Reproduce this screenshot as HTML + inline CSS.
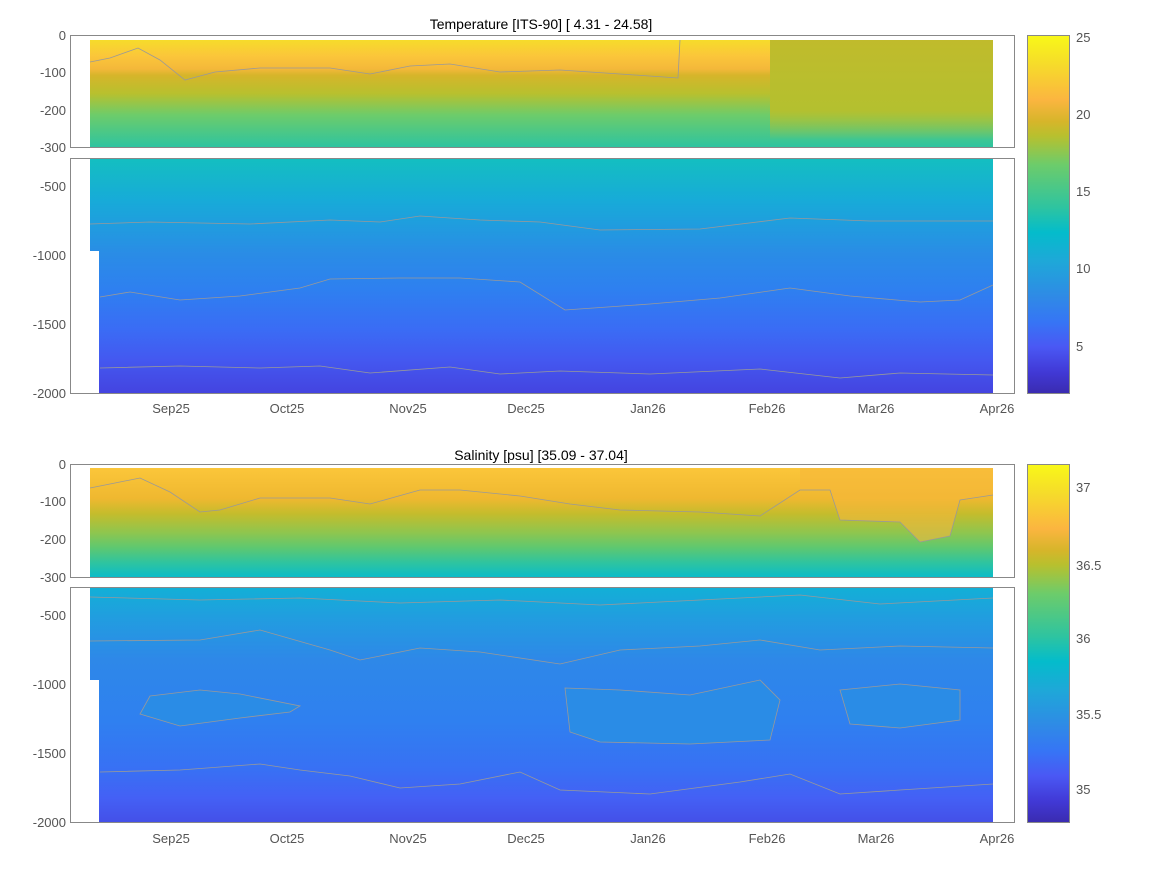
<!DOCTYPE html>
<html><head><meta charset="utf-8"><style>
body{margin:0;background:#fff;}
svg{display:block;font-family:"Liberation Sans",sans-serif;}
.t{fill:#555;font-size:13px;}
.ti{fill:#000;font-size:14px;}
</style></head><body>
<svg width="1167" height="875" viewBox="0 0 1167 875" xmlns="http://www.w3.org/2000/svg">
<defs>
<linearGradient id="cb" x1="0" y1="1" x2="0" y2="0">
<stop offset="0" stop-color="#3a2bb0"/><stop offset="0.06" stop-color="#4139d6"/>
<stop offset="0.13" stop-color="#4a58f4"/><stop offset="0.20" stop-color="#3675f5"/>
<stop offset="0.27" stop-color="#2f8ae6"/><stop offset="0.37" stop-color="#1ea8d8"/>
<stop offset="0.45" stop-color="#04bccb"/><stop offset="0.52" stop-color="#2ec4a0"/>
<stop offset="0.64" stop-color="#6dcc6a"/><stop offset="0.72" stop-color="#b8c02e"/>
<stop offset="0.76" stop-color="#d6b52a"/><stop offset="0.82" stop-color="#fbb540"/>
<stop offset="0.92" stop-color="#f6dc2a"/><stop offset="1" stop-color="#f8f818"/>
</linearGradient>
<linearGradient id="tu" x1="0" y1="0" x2="0" y2="1">
<stop offset="0" stop-color="#f6dc2a"/><stop offset="0.15" stop-color="#fbc63a"/>
<stop offset="0.27" stop-color="#f4b83a"/><stop offset="0.33" stop-color="#d6b52a"/>
<stop offset="0.5" stop-color="#b8c02e"/><stop offset="0.7" stop-color="#6dcc6a"/>
<stop offset="1" stop-color="#2ec4a0"/>
</linearGradient>
<linearGradient id="tr" x1="0" y1="0" x2="0" y2="1">
<stop offset="0" stop-color="#c0bb2c"/><stop offset="0.7" stop-color="#b4c02f"/>
<stop offset="1" stop-color="#b4c02f" stop-opacity="0"/>
</linearGradient>
<linearGradient id="tl" x1="0" y1="0" x2="0" y2="1">
<stop offset="0" stop-color="#14bfc0"/><stop offset="0.18" stop-color="#17abd8"/>
<stop offset="0.41" stop-color="#2a8ce6"/><stop offset="0.56" stop-color="#2e80f0"/>
<stop offset="0.73" stop-color="#3a6cf5"/><stop offset="0.86" stop-color="#4458f0"/>
<stop offset="1" stop-color="#4444e0"/>
</linearGradient>
<linearGradient id="su" x1="0" y1="0" x2="0" y2="1">
<stop offset="0" stop-color="#fbc63a"/><stop offset="0.28" stop-color="#efb830"/>
<stop offset="0.42" stop-color="#c4bc2c"/><stop offset="0.6" stop-color="#8cc650"/>
<stop offset="0.73" stop-color="#5ec870"/><stop offset="0.87" stop-color="#2ec4a0"/>
<stop offset="1" stop-color="#0cbcc8"/>
</linearGradient>
<linearGradient id="sl" x1="0" y1="0" x2="0" y2="1">
<stop offset="0" stop-color="#12b0d6"/><stop offset="0.14" stop-color="#229ce0"/>
<stop offset="0.31" stop-color="#2e88e8"/><stop offset="0.57" stop-color="#2f80f0"/>
<stop offset="0.78" stop-color="#3870f4"/><stop offset="0.9" stop-color="#4460f5"/>
<stop offset="1" stop-color="#4450e8"/>
</linearGradient>
</defs>

<!-- Temperature -->
<text class="ti" x="541" y="29" text-anchor="middle">Temperature [ITS-90]   [ 4.31 - 24.58]</text>
<rect x="90" y="40" width="903" height="107" fill="url(#tu)"/>
<rect x="770" y="40" width="223" height="100" fill="url(#tr)"/>
<polyline fill="none" stroke="#999" stroke-width="0.8" points="90,62 110,58 138,48 160,60 185,80 215,72 260,68 330,68 370,74 410,66 450,64 500,72 560,70 620,74 678,78 680,40"/>
<rect x="90" y="158" width="903" height="235" fill="url(#tl)"/>
<rect x="90" y="251" width="9" height="142" fill="#fff"/>
<polyline fill="none" stroke="#999" stroke-width="0.8" points="90,224 150,222 250,224 330,220 380,222 420,216 480,220 540,222 600,230 700,229 790,218 870,221 993,221"/>
<polyline fill="none" stroke="#999" stroke-width="0.8" points="100,297 130,292 180,300 240,296 300,288 330,279 400,278 460,278 520,282 565,310 650,304 720,298 790,288 850,296 920,302 960,300 993,285"/>
<polyline fill="none" stroke="#999" stroke-width="0.8" points="100,368 180,366 260,368 320,366 370,373 450,367 500,374 560,371 650,374 760,369 840,378 900,373 993,375"/>
<rect x="70.5" y="35.5" width="944" height="112" fill="none" stroke="#888"/>
<rect x="70.5" y="158.5" width="944" height="235" fill="none" stroke="#888"/>
<g class="t" text-anchor="end">
<text x="66" y="40">0</text><text x="66" y="77">-100</text><text x="66" y="115">-200</text><text x="66" y="152">-300</text>
<text x="66" y="191">-500</text><text x="66" y="260">-1000</text><text x="66" y="329">-1500</text><text x="66" y="398">-2000</text>
</g>
<g class="t" text-anchor="middle">
<text x="171" y="413">Sep25</text><text x="287" y="413">Oct25</text><text x="408" y="413">Nov25</text><text x="526" y="413">Dec25</text>
<text x="648" y="413">Jan26</text><text x="767" y="413">Feb26</text><text x="876" y="413">Mar26</text><text x="997" y="413">Apr26</text>
</g>
<rect x="1027.5" y="35.5" width="42" height="358" fill="url(#cb)" stroke="#888"/>
<g class="t"><text x="1076" y="42">25</text><text x="1076" y="119">20</text><text x="1076" y="196">15</text><text x="1076" y="273">10</text><text x="1076" y="351">5</text></g>

<!-- Salinity -->
<text class="ti" x="541" y="460" text-anchor="middle">Salinity [psu]   [35.09 - 37.04]</text>
<rect x="90" y="468" width="903" height="109" fill="url(#su)"/>
<path d="M800,490 L830,490 L840,520 L900,522 L920,542 L950,536 L960,500 L993,495 L993,468 L800,468Z" fill="#f6b83a" opacity="0.6"/>
<polyline fill="none" stroke="#999" stroke-width="0.8" points="90,488 110,484 140,478 170,492 200,512 220,510 260,498 330,498 370,504 420,490 460,490 520,496 570,504 620,510 700,512 760,516 800,490 830,490 840,520 900,522 920,542 950,536 960,500 993,495"/>
<rect x="90" y="587" width="903" height="235" fill="url(#sl)"/>
<rect x="90" y="680" width="9" height="142" fill="#fff"/>
<polyline fill="none" stroke="#999" stroke-width="0.8" points="90,597 200,600 300,598 400,603 500,600 600,605 700,600 800,595 880,604 993,598"/>
<polyline fill="none" stroke="#999" stroke-width="0.8" points="90,641 200,640 260,630 330,650 360,660 420,648 480,652 560,664 620,650 700,646 760,640 820,650 900,646 993,648"/>
<polyline fill="none" stroke="#999" stroke-width="0.8" points="100,772 180,770 260,764 300,770 350,776 400,788 460,784 520,772 560,790 650,794 740,782 790,774 840,794 900,790 993,784"/>
<path d="M565,688 L620,690 L690,695 L760,680 L780,700 L770,740 L690,744 L600,742 L570,732 Z" fill="#2a8ce6" stroke="#999" stroke-width="0.8"/>
<path d="M150,696 L200,690 L240,694 L300,706 L290,712 L240,718 L180,726 L140,714 Z" fill="#2a8ce6" stroke="#999" stroke-width="0.8"/>
<path d="M840,690 L900,684 L960,690 L960,720 L900,728 L850,724 Z" fill="#2a8ce6" stroke="#999" stroke-width="0.8"/>
<rect x="70.5" y="464.5" width="944" height="113" fill="none" stroke="#888"/>
<rect x="70.5" y="587.5" width="944" height="235" fill="none" stroke="#888"/>
<g class="t" text-anchor="end">
<text x="66" y="469">0</text><text x="66" y="506">-100</text><text x="66" y="544">-200</text><text x="66" y="582">-300</text>
<text x="66" y="620">-500</text><text x="66" y="689">-1000</text><text x="66" y="758">-1500</text><text x="66" y="827">-2000</text>
</g>
<g class="t" text-anchor="middle">
<text x="171" y="843">Sep25</text><text x="287" y="843">Oct25</text><text x="408" y="843">Nov25</text><text x="526" y="843">Dec25</text>
<text x="648" y="843">Jan26</text><text x="767" y="843">Feb26</text><text x="876" y="843">Mar26</text><text x="997" y="843">Apr26</text>
</g>
<rect x="1027.5" y="464.5" width="42" height="358" fill="url(#cb)" stroke="#888"/>
<g class="t"><text x="1076" y="492">37</text><text x="1076" y="570">36.5</text><text x="1076" y="643">36</text><text x="1076" y="719">35.5</text><text x="1076" y="794">35</text></g>
</svg>
</body></html>
